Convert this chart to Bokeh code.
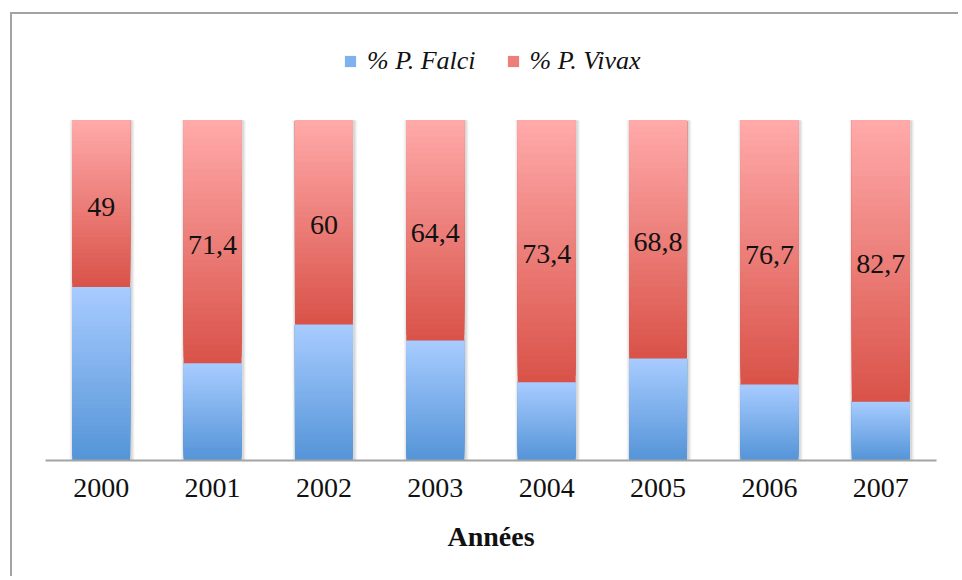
from bokeh.plotting import figure
from bokeh.models import ColumnDataSource, FactorRange, Legend, LegendItem
from bokeh.transform import dodge
from bokeh.embed import file_html
from bokeh.resources import INLINE
from bokeh.core.properties import value

years = ["2000", "2001", "2002", "2003", "2004", "2005", "2006", "2007"]
falci = [51, 28.6, 40, 35.1, 21.9, 29.5, 22.1, 17.3]
vivax = [49, 71.4, 60, 64.4, 73.4, 68.8, 76.7, 82.7]
vivax_labels = ["49", "71,4", "60", "64,4", "73,4", "68,8", "76,7", "82,7"]

# 100 % stacked shares
totals = [f + v for f, v in zip(falci, vivax)]
falci_pct = [100 * f / t for f, t in zip(falci, totals)]
vivax_pct = [100 * v / t for v, t in zip(vivax, totals)]

BLUE_BOT, BLUE_TOP = (84, 148, 216), (168, 204, 255)
RED_BOT, RED_TOP = (217, 82, 72), (255, 170, 170)
N = 40


def hexc(c0, c1, t):
    return "#%02x%02x%02x" % tuple(int(round(a + (b - a) * t)) for a, b in zip(c0, c1))


def strips(bases, heights, c0, c1):
    # each strip runs from its own start to the segment top; later strips cover earlier ones
    d = dict(x=[], bottom=[], top=[], color=[])
    for yr, b, h in zip(years, bases, heights):
        for j in range(N):
            d["x"].append(yr)
            d["bottom"].append(b + h * j / N)
            d["top"].append(b + h)
            d["color"].append(hexc(c0, c1, (j + 0.5) / N))
    return ColumnDataSource(d)


p = figure(x_range=FactorRange(*years, range_padding=0), y_range=(0, 127),
           width=948, height=564, output_backend="svg", toolbar_location=None,
           min_border_left=33, min_border_right=24, min_border_top=14, min_border_bottom=118,
           outline_line_color=None,
           styles={"border-left": "2px solid #a3a3a3", "border-top": "2px solid #a3a3a3",
                   "margin-left": "10px", "margin-top": "12px"})

# soft shadow behind the bars
shadow = ColumnDataSource(dict(x=years, top=[f + v for f, v in zip(falci_pct, vivax_pct)]))
for w, a in [(0.585, 0.035), (0.565, 0.05), (0.545, 0.07)]:
    p.vbar(x=dodge("x", 0.008, range=p.x_range), bottom=0, top="top", width=w, source=shadow,
           fill_color="#000000", fill_alpha=a, line_color=None)

src_b = strips([0] * len(years), falci_pct, BLUE_BOT, BLUE_TOP)
src_r = strips(falci_pct, vivax_pct, RED_BOT, RED_TOP)
rb = p.vbar(x="x", bottom="bottom", top="top", width=0.52, source=src_b,
            fill_color="color", line_color=None)
rr = p.vbar(x="x", bottom="bottom", top="top", width=0.52, source=src_r,
            fill_color="color", line_color=None)

lab = ColumnDataSource(dict(x=years, y=[f + v / 2 for f, v in zip(falci_pct, vivax_pct)],
                            t=vivax_labels))
p.text(x="x", y="y", text="t", source=lab, text_align="center", text_baseline="middle",
       y_offset=3, text_font=value("Liberation Serif"), text_font_size="28px",
       text_color="#111111")

legend = Legend(items=[LegendItem(label="% P. Falci", renderers=[rb], index=N // 2),
                       LegendItem(label="% P. Vivax", renderers=[rr], index=N + N // 2)],
                orientation="horizontal", location=(298, 384),
                glyph_width=14, glyph_height=14, label_standoff=10, spacing=30,
                padding=0, margin=0, border_line_color=None, background_fill_alpha=0,
                label_text_font="Liberation Serif", label_text_font_style="italic",
                label_text_font_size="26px", label_text_color="#111111")
p.add_layout(legend)

p.yaxis.visible = False
p.xgrid.visible = False
p.ygrid.visible = False
ax = p.xaxis[0]
ax.axis_line_color = "#a3a3a3"
ax.axis_line_width = 2
ax.major_tick_line_color = None
ax.minor_tick_line_color = None
ax.major_tick_out = 0
ax.major_label_standoff = 18
ax.major_label_text_font = "Liberation Serif"
ax.major_label_text_font_size = "28px"
ax.major_label_text_color = "#111111"
ax.axis_label = "Années"
ax.axis_label_text_font = "Liberation Serif"
ax.axis_label_text_font_style = "bold"
ax.axis_label_text_font_size = "28px"
ax.axis_label_text_color = "#111111"
ax.axis_label_standoff = 21

open("out.html", "w").write(file_html(p, INLINE))
